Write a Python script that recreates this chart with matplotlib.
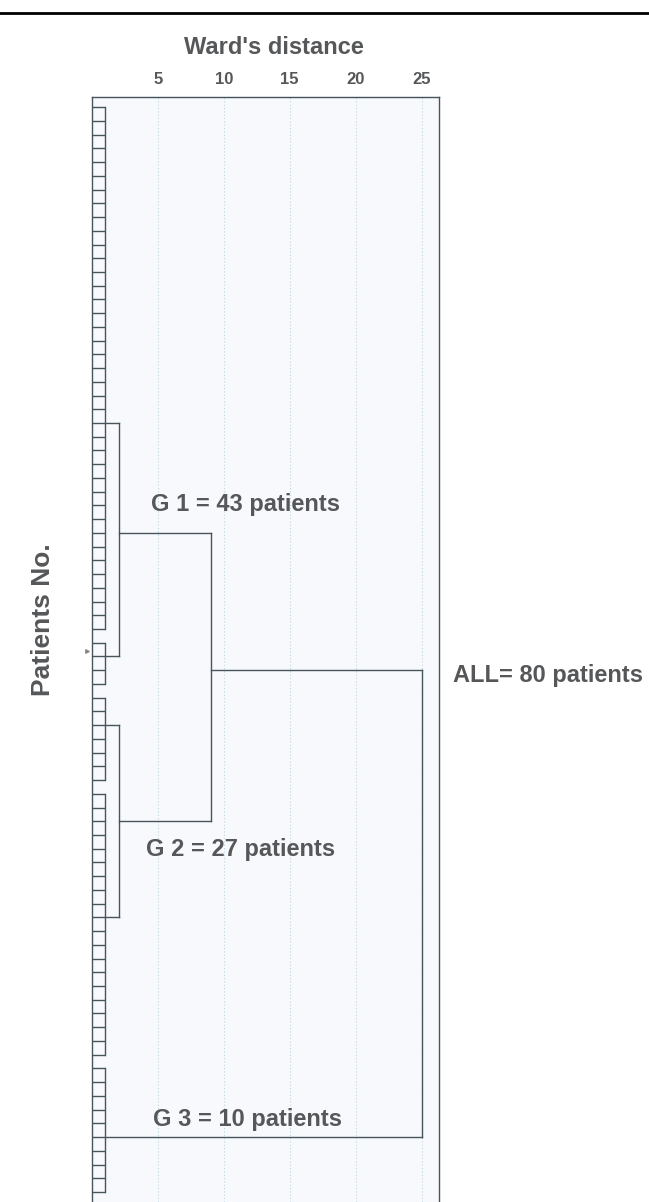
import matplotlib
matplotlib.use("Agg")
import matplotlib.pyplot as plt
from matplotlib.lines import Line2D

plt.rcParams['font.family'] = ['Liberation Sans', 'DejaVu Sans']

# --- data ---
n_patients = 80
# consecutive leaf rows that join at the first (tiny) Ward step
leaf_runs = [(0, 38), (39, 42), (43, 49), (50, 69), (70, 79)]
leaf_dist = 1.0
# higher merges: rows of the two children, their heights, merge height
merge_rows = [(23, 40), (45, 59), (31, 52), (41, 75)]
merge_child_dist = [(1.0, 1.0), (1.0, 1.0), (2.07, 2.07), (9.05, 1.0)]
merge_dist = [2.07, 2.07, 9.05, 25.0]
xticks = [5, 10, 15, 20, 25]
group_labels = ['G 1 = 43 patients', 'G 2 = 27 patients', 'G 3 = 10 patients', 'ALL= 80 patients']

line_c = '#46555c'
text_c = '#555759'

fig = plt.figure(figsize=(6.49, 12.02), dpi=100)
ax = fig.add_axes([0.1413, 0.0, 0.5344, 0.9196])
ax.set_facecolor('#f8f9fc')
ax.set_xlim(0, 26.27)
ax.set_ylim(79.73, -0.77)

# leaf rungs
for i in range(n_patients):
    ax.plot([0, leaf_dist], [i, i], color=line_c, lw=1.0, solid_capstyle='butt')
for a, b in leaf_runs:
    ax.plot([leaf_dist, leaf_dist], [a, b], color=line_c, lw=1.0)

# merges
for (r1, r2), (d1, d2), d in zip(merge_rows, merge_child_dist, merge_dist):
    ax.plot([d1, d], [r1, r1], color=line_c, lw=1.0)
    ax.plot([d2, d], [r2, r2], color=line_c, lw=1.0)
    ax.plot([d, d], [r1, r2], color=line_c, lw=1.0)

# small pointer on the left
ax.plot([-0.32], [39.6], marker='>', ms=2.5, color='#888888', clip_on=False)

# axes styling
ax.set_xticks(xticks)
ax.set_yticks([])
ax.xaxis.tick_top()
ax.tick_params(axis='x', length=0, pad=7, labelsize=12, labelcolor=text_c)
for lab in ax.get_xticklabels():
    lab.set_fontweight('bold')
ax.grid(axis='x', color='#bcd3e0', linestyle=(0, (1, 2)), lw=0.8)
ax.set_axisbelow(True)
for side in ['top', 'left', 'right']:
    ax.spines[side].set_color(line_c)
    ax.spines[side].set_linewidth(1.0)
ax.spines['bottom'].set_visible(False)

# group labels
label_pos = [(4.49, 29.38), (4.11, 54.53), (4.62, 74.23), (27.35, 41.83)]
for txt, (x, y) in zip(group_labels, label_pos):
    ax.text(x, y, txt, fontsize=17, fontweight='bold', color=text_c,
            ha='left', va='baseline', clip_on=False)

fig.text(274 / 649, 1 - 54 / 1202, "Ward's distance", fontsize=17, fontweight='bold',
         color=text_c, ha='center', va='baseline')
fig.text(43 / 649, 1 - 620 / 1202, 'Patients No.', fontsize=19, fontweight='bold',
         color=text_c, ha='center', va='center', rotation=90)

fig.add_artist(Line2D([0, 1], [1 - 13.3 / 1202] * 2, color='black', lw=2.0,
                      transform=fig.transFigure))

fig.savefig('out.png', dpi=100, facecolor='white')
